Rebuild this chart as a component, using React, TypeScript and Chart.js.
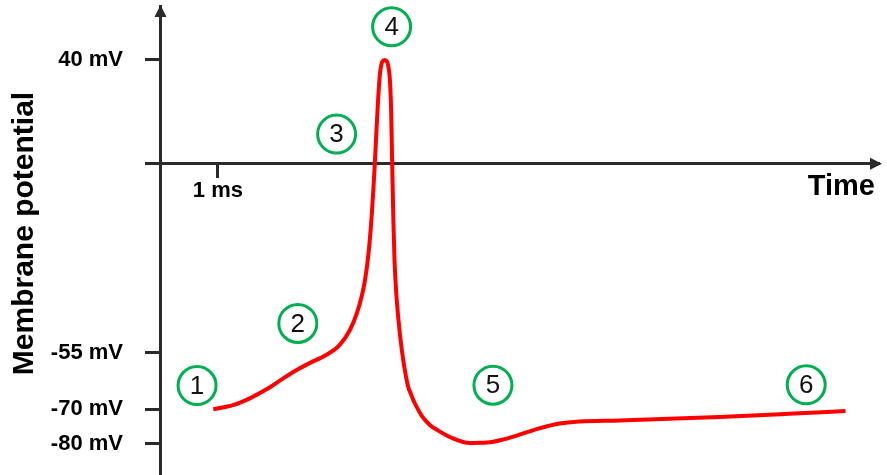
import { useEffect, useRef } from 'react';
import { Chart, LinearScale, registerables } from 'chart.js';

// Action potential trace: time in ms, membrane potential in mV.
const timeMs = [
  0.92, 1.26, 1.55, 1.84, 2.13, 2.36, 2.59, 2.87,
  3.1, 3.28, 3.4, 3.48, 3.53, 3.58, 3.62, 3.66, 3.69, 3.71, 3.73, 3.76, 3.8, 3.88,
  3.96, 3.99, 4.01, 4.03, 4.05, 4.08, 4.13, 4.2, 4.24, 4.28, 4.34, 4.4, 4.53, 4.66, 4.79,
  5.05, 5.35, 5.65, 5.95, 6.25, 6.55, 6.9, 7.24, 7.93, 9.66, 10.86, 11.84,
];
const potentialMv = [
  -70, -68.9, -67.1, -64.7, -61.8, -59.6, -57.7, -55.6,
  -52.8, -48.4, -43.5, -38.8, -34.9, -29.2, -22.8, -14.1, -5.9, 0, 9.1, 22, 35, 40,
  35, 22, 0, -16.3, -28, -37.6, -47.5, -56.9, -60.6, -63.7, -66.2, -68.4, -72.1, -74.5, -76,
  -78.3, -79.7, -79.6, -78.6, -77.1, -75.5, -74.1, -73.5, -73.2, -72.2, -71.3, -70.5,
];

// Numbered phase markers.
const markerLabels = ['1', '2', '3', '4', '5', '6'];
const markerTimeMs = [0.64, 2.38, 3.05, 4.0, 5.75, 11.16];
const markerMv = [-63.7, -46.5, 11.4, 52.8, -63.6, -63.5];

// Axis ticks.
const yTickValues = [40, 0, -55, -70, -80];
const yTickLabels = ['40 mV', '', '-55 mV', '-70 mV', '-80 mV'];
const xTickValues = [1];
const xTickLabels = ['1 ms'];

const xAxisTitle = 'Time';
const yAxisTitle = 'Membrane potential';

// The potential axis is schematic: each band between these potentials
// gets its own share of the plot height (value, fraction from the bottom).
const yBands: [number, number][] = [
  [-88.9, 0],
  [-80, 0.0661],
  [-70, 0.1401],
  [-55, 0.2608],
  [0, 0.6638],
  [40, 0.8849],
  [60.8, 1],
];

function valueToFraction(v: number): number {
  const n = yBands.length;
  let i = 0;
  if (v <= yBands[0][0]) i = 0;
  else if (v >= yBands[n - 1][0]) i = n - 2;
  else while (i < n - 2 && v > yBands[i + 1][0]) i++;
  const [v0, f0] = yBands[i];
  const [v1, f1] = yBands[i + 1];
  return f0 + ((v - v0) / (v1 - v0)) * (f1 - f0);
}

function fractionToValue(f: number): number {
  const n = yBands.length;
  let i = 0;
  if (f <= yBands[0][1]) i = 0;
  else if (f >= yBands[n - 1][1]) i = n - 2;
  else while (i < n - 2 && f > yBands[i + 1][1]) i++;
  const [v0, f0] = yBands[i];
  const [v1, f1] = yBands[i + 1];
  return v0 + ((f - f0) / (f1 - f0)) * (v1 - v0);
}

class SchematicScale extends LinearScale {
  static id = 'schematic';
  static defaults = {};
  getPixelForValue(value: any) {
    if (value === null || value === undefined || Number.isNaN(+value)) return NaN;
    return this.getPixelForDecimal(valueToFraction(+value));
  }
  getValueForPixel(pixel: number) {
    return fractionToValue(this.getDecimalForPixel(pixel));
  }
}

Chart.register(...registerables, SchematicScale);

const axisColor = '#2a2a2a';
const markerColor = '#00b050';
const fontFamily = '"Liberation Sans", Arial, sans-serif';

const annotations = {
  id: 'axisDecorations',
  afterDraw(chart: any) {
    const { ctx, chartArea, scales } = chart;
    const x0 = scales.x.getPixelForValue(0);
    const y0 = scales.y.getPixelForValue(0);
    ctx.save();

    // Arrow heads on both axes
    ctx.fillStyle = axisColor;
    ctx.beginPath();
    ctx.moveTo(x0 + 0.5, chartArea.top - 1);
    ctx.lineTo(x0 - 5.5, chartArea.top + 11);
    ctx.lineTo(x0 + 6.5, chartArea.top + 11);
    ctx.closePath();
    ctx.fill();
    ctx.beginPath();
    ctx.moveTo(chartArea.right + 4, y0);
    ctx.lineTo(chartArea.right - 8, y0 - 6);
    ctx.lineTo(chartArea.right - 8, y0 + 6);
    ctx.closePath();
    ctx.fill();

    // Axis titles
    ctx.fillStyle = '#000';
    ctx.font = `bold 29px ${fontFamily}`;
    ctx.textAlign = 'right';
    ctx.textBaseline = 'alphabetic';
    ctx.fillText(xAxisTitle, chartArea.right - 3, y0 + 31);

    ctx.save();
    ctx.translate(33, 233.5);
    ctx.rotate(-Math.PI / 2);
    ctx.font = `bold 30px ${fontFamily}`;
    ctx.textAlign = 'center';
    ctx.fillText(yAxisTitle, 0, 0);
    ctx.restore();

    // Marker numbers
    const meta = chart.getDatasetMeta(0);
    ctx.font = `26px ${fontFamily}`;
    ctx.textAlign = 'center';
    ctx.textBaseline = 'middle';
    ctx.fillStyle = '#111';
    meta.data.forEach((pt: any, i: number) => {
      ctx.fillText(markerLabels[i], pt.x, pt.y + 1);
    });
    ctx.restore();
  },
};

export default function App() {
  const canvasRef = useRef<HTMLCanvasElement>(null);

  useEffect(() => {
    if (!canvasRef.current) return;
    Chart.defaults.font.family = fontFamily;

    const curve = timeMs.map((t, i) => ({ x: t, y: potentialMv[i] }));
    const markers = markerTimeMs.map((t, i) => ({ x: t, y: markerMv[i] }));

    const chart = new Chart(canvasRef.current, {
      type: 'line',
      data: {
        datasets: [
          {
            type: 'scatter',
            data: markers,
            pointRadius: 19,
            pointHoverRadius: 19,
            pointStyle: 'circle',
            borderColor: markerColor,
            backgroundColor: '#ffffff',
            borderWidth: 3,
            clip: false,
            order: 0,
          } as any,
          {
            type: 'line',
            data: curve,
            borderColor: '#ff0000',
            borderWidth: 4,
            pointRadius: 0,
            cubicInterpolationMode: 'monotone',
            fill: false,
            order: 1,
          } as any,
        ],
      },
      options: {
        responsive: false,
        animation: false,
        events: [],
        layout: { autoPadding: false, padding: { top: 6, right: 9, bottom: 0, left: 0 } },
        plugins: { legend: { display: false }, tooltip: { enabled: false } },
        scales: {
          x: {
            type: 'linear',
            position: { y: 0 } as any,
            min: 0,
            max: 12.4,
            bounds: 'data',
            afterFit: (s: any) => {
              s.height = 0;
              s.paddingLeft = 0;
              s.paddingRight = 0;
              s.paddingTop = 0;
              s.paddingBottom = 0;
            },
            afterBuildTicks: (s: any) => {
              s.ticks = xTickValues.map((v) => ({ value: v }));
            },
            ticks: {
              callback: (_v: any, i: number) => xTickLabels[i] ?? '',
              font: { size: 22, weight: 'bold' },
              color: '#000',
              padding: 1,
              autoSkip: false,
              maxRotation: 0,
              minRotation: 0,
            },
            grid: { drawOnChartArea: false, drawTicks: true, tickLength: 13, lineWidth: 3, color: axisColor },
            border: { display: true, color: axisColor, width: 3 },
          },
          y: {
            type: 'schematic' as any,
            position: 'left',
            min: yBands[0][0],
            max: yBands[yBands.length - 1][0],
            bounds: 'data',
            afterFit: (s: any) => {
              s.width = 160;
              s.paddingLeft = 0;
              s.paddingRight = 0;
              s.paddingTop = 0;
              s.paddingBottom = 0;
            },
            afterBuildTicks: (s: any) => {
              s.ticks = yTickValues.map((v) => ({ value: v }));
            },
            ticks: {
              callback: (_v: any, i: number) => yTickLabels[i] ?? '',
              font: { size: 22, weight: 'bold' },
              color: '#000',
              padding: 22,
              autoSkip: false,
            },
            grid: { drawOnChartArea: false, drawTicks: true, tickLength: 15, lineWidth: 3, color: axisColor },
            border: { display: true, color: axisColor, width: 3 },
          } as any,
        },
      },
      plugins: [annotations],
    });

    return () => chart.destroy();
  }, []);

  return (
    <div style={{ position: 'absolute', left: 0, top: 0, width: 887, height: 475, background: '#ffffff' }}>
      <canvas ref={canvasRef} width={887} height={475} style={{ display: 'block' }} />
    </div>
  );
}
